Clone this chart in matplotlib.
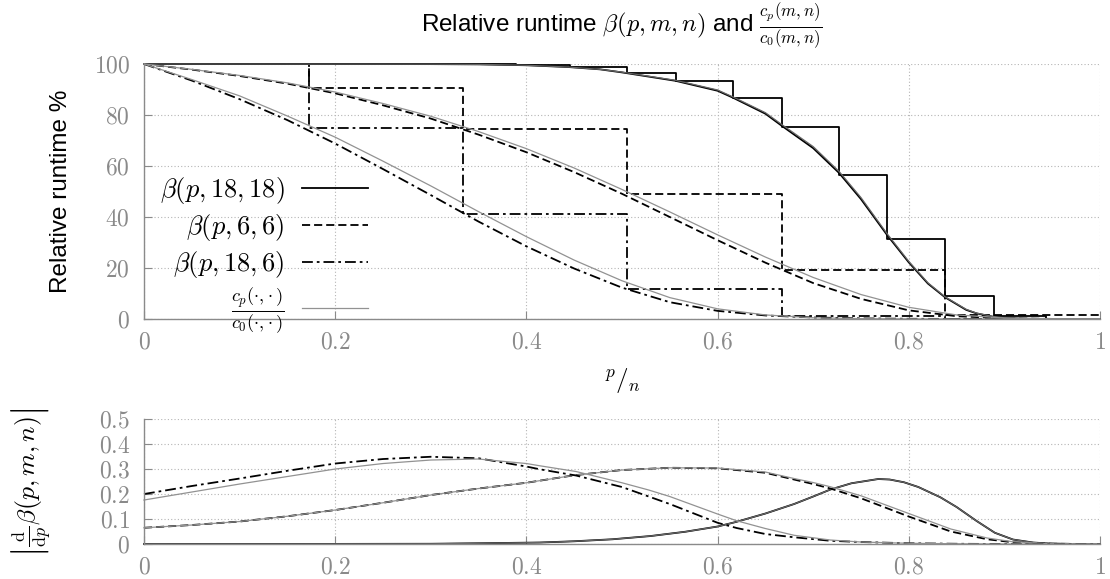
import matplotlib
matplotlib.use("Agg")
import matplotlib.pyplot as plt
from matplotlib.ticker import FixedLocator, FixedFormatter

plt.rcParams['mathtext.fontset'] = 'cm'
plt.rcParams['font.family'] = ['Liberation Sans', 'DejaVu Sans']

# ---------------- data ----------------
# top panel: smooth curves (p/n, relative runtime %)
p_s1818 = [0, 0.3, 0.35, 0.4, 0.444, 0.477, 0.5, 0.556, 0.6, 0.616, 0.65, 0.667, 0.7,
           0.727, 0.75, 0.7776, 0.8, 0.82, 0.838, 0.86, 0.871, 0.888, 0.9, 0.92, 0.95, 1.0]
v_s1818 = [100, 99.95, 99.85, 99.5, 98.8, 97.9, 96.7, 93.4, 89.5, 86.8, 80.5, 75.8, 67,
           57.3, 47, 32.8, 22.2, 13.9, 8.5, 3.6, 2.2, 0.9, 0.45, 0.12, 0.02, 0]
g_s1818 = [100, 99.95, 99.85, 99.5, 98.8, 97.9, 96.8, 93.6, 89.8, 87.1, 80.9, 76.3, 67.6,
           57.9, 47.6, 33.3, 22.6, 14.2, 8.7, 3.8, 2.3, 1.0, 0.5, 0.13, 0.02, 0]

p_s = [0, 0.05, 0.1, 0.15, 0.2, 0.25, 0.3, 0.35, 0.4, 0.45, 0.5, 0.55, 0.6, 0.65,
       0.7, 0.75, 0.8, 0.85, 0.9, 0.95, 1.0]
v_s66 = [100, 97.8, 95.3, 92.3, 88.5, 83.8, 78.6, 72.3, 65.4, 57.6, 49.1, 40.0, 30.9,
         22.1, 14.1, 7.9, 3.4, 1.1, 0.3, 0.05, 0]
g_s66 = [100, 97.9, 95.5, 92.6, 89.0, 84.5, 79.5, 73.5, 66.8, 59.2, 50.8, 42.0, 33.0,
         24.3, 16.3, 9.6, 4.6, 1.6, 0.4, 0.05, 0]
v_s186 = [100, 93.5, 86.2, 78.0, 68.8, 58.8, 48.6, 38.2, 28.5, 19.8, 12.3, 6.6, 3.2,
          1.4, 0.6, 0.25, 0.1, 0.03, 0, 0, 0]
g_s186 = [100, 93.9, 87.5, 79.6, 71.3, 61.9, 52.2, 42.1, 32.3, 23.1, 15.0, 8.4, 4.0,
          1.6, 0.5, 0.15, 0.05, 0.01, 0, 0, 0]

# top panel: step functions
e_1818 = [0, 0.0556, 0.111, 0.167, 0.222, 0.278, 0.333, 0.389, 0.4456, 0.5055, 0.5565,
          0.6165, 0.667, 0.727, 0.7775, 0.838, 0.889, 0.944, 1.0]
l_1818 = [100, 100, 100, 100, 100, 100, 99.95, 99.7, 98.9, 96.5, 93.2, 86.8, 75.3,
          56.5, 31.4, 9.1, 1.0, 0.1, 0.1]
e_6 = [0, 0.1726, 0.334, 0.5055, 0.667, 0.838, 1.0]
l_66 = [100, 90.6, 74.4, 48.9, 19.2, 1.6, 1.6]
l_186 = [100, 74.8, 41.2, 11.6, 1.1, 0.15, 0.15]

# bottom panel: |d beta / dp|
pd_1818 = [0, 0.2, 0.3, 0.35, 0.414, 0.45, 0.49, 0.53, 0.566, 0.6, 0.619, 0.65, 0.68,
           0.7, 0.718, 0.74, 0.768, 0.78, 0.795, 0.81, 0.833, 0.85, 0.871, 0.89, 0.909,
           0.93, 0.947, 0.97, 1.0]
d_1818 = [0, 0.0005, 0.001, 0.003, 0.006, 0.011, 0.019, 0.032, 0.049, 0.07, 0.088,
          0.122, 0.16, 0.19, 0.218, 0.243, 0.26, 0.258, 0.247, 0.228, 0.187, 0.148,
          0.092, 0.045, 0.018, 0.006, 0.002, 0.0005, 0]

pd_66 = [0, 0.05, 0.1, 0.15, 0.2, 0.25, 0.3, 0.35, 0.4, 0.45, 0.5, 0.55, 0.6, 0.65,
         0.68, 0.7, 0.718, 0.75, 0.8, 0.844, 0.882, 0.909, 0.95, 1.0]
d_66 = [0.065, 0.076, 0.09, 0.111, 0.136, 0.165, 0.196, 0.222, 0.245, 0.275, 0.296,
        0.305, 0.303, 0.285, 0.258, 0.24, 0.222, 0.183, 0.11, 0.05, 0.019, 0.007, 0.001, 0]
dg_66 = [0.065, 0.076, 0.09, 0.111, 0.136, 0.165, 0.196, 0.222, 0.245, 0.275, 0.296,
         0.305, 0.304, 0.288, 0.262, 0.246, 0.229, 0.193, 0.122, 0.06, 0.024, 0.009, 0.001, 0]

pd_186 = [0, 0.05, 0.1, 0.15, 0.2, 0.25, 0.3, 0.35, 0.4, 0.414, 0.452, 0.5, 0.528, 0.55,
          0.6, 0.62, 0.65, 0.68, 0.718, 0.75, 0.8, 0.85, 0.9, 1.0]
d_186 = [0.2, 0.232, 0.262, 0.293, 0.322, 0.34, 0.349, 0.343, 0.31, 0.299, 0.274, 0.228,
         0.19, 0.16, 0.085, 0.064, 0.04, 0.027, 0.013, 0.008, 0.003, 0.001, 0, 0]
dg_186 = [0.176, 0.208, 0.24, 0.27, 0.30, 0.322, 0.336, 0.34, 0.322, 0.313, 0.29, 0.245,
          0.216, 0.19, 0.12, 0.093, 0.062, 0.035, 0.016, 0.008, 0.003, 0.001, 0, 0]

x_ticks = [0, 0.2, 0.4, 0.6, 0.8, 1.0]
x_labels = ['0', '0.2', '0.4', '0.6', '0.8', '1']
y1_ticks = [0, 20, 40, 60, 80, 100]
y1_labels = ['0', '20', '40', '60', '80', '100']
y2_ticks = [0, 0.1, 0.2, 0.3, 0.4, 0.5]
y2_labels = ['0', '0.1', '0.2', '0.3', '0.4', '0.5']

# ---------------- styles ----------------
BLK = 'black'
GRY = '#929292'
TICKC = '#8a8a8a'
LW = 1.3
GLW = 0.9
DASH = (0, (4.5, 2.2))
DASHDOT = (0, (6, 2.2, 1.5, 2.2))

fig = plt.figure(figsize=(11.1, 5.79), dpi=100)
ax1 = fig.add_axes([0.1297, 0.449, 0.8613, 0.4405])
ax2 = fig.add_axes([0.1297, 0.0604, 0.8613, 0.2159])


def style_axes(ax, yt, yl, ylim):
    ax.set_xlim(0, 1)
    ax.set_ylim(*ylim)
    ax.xaxis.set_major_locator(FixedLocator(x_ticks))
    ax.xaxis.set_major_formatter(FixedFormatter([r'$%s$' % s for s in x_labels]))
    ax.yaxis.set_major_locator(FixedLocator(yt))
    ax.yaxis.set_major_formatter(FixedFormatter([r'$%s$' % s for s in yl]))
    ax.tick_params(direction='in', length=6, width=0.8, color=TICKC,
                   labelcolor=TICKC, labelsize=17, pad=10)
    ax.tick_params(axis='x', pad=9)
    for s in ['top', 'right']:
        ax.spines[s].set_visible(False)
    for s in ['left', 'bottom']:
        ax.spines[s].set_color(TICKC)
        ax.spines[s].set_linewidth(1.0)
    ax.grid(True, linestyle=(0, (1, 2)), color='#b5b5b5', linewidth=0.8)
    ax.set_axisbelow(True)


style_axes(ax1, y1_ticks, y1_labels, (0, 100))
style_axes(ax2, y2_ticks, y2_labels, (0, 0.5))

# ---------------- top panel ----------------
ax1.step(e_1818, l_1818, where='post', color=BLK, lw=LW, clip_on=False)
ax1.step(e_6, l_66, where='post', color=BLK, lw=LW, linestyle=DASH, clip_on=False)
ax1.step(e_6, l_186, where='post', color=BLK, lw=LW, linestyle=DASHDOT, clip_on=False)

h1, = ax1.plot(p_s1818, v_s1818, color=BLK, lw=LW, clip_on=False)
h2, = ax1.plot(p_s, v_s66, color=BLK, lw=LW, linestyle=DASH, clip_on=False)
h3, = ax1.plot(p_s, v_s186, color=BLK, lw=LW, linestyle=DASHDOT, clip_on=False)
ax1.plot(p_s1818, g_s1818, color='#666666', lw=GLW, clip_on=False)
ax1.plot(p_s, g_s66, color=GRY, lw=GLW, clip_on=False)
ax1.plot(p_s, g_s186, color=GRY, lw=GLW, clip_on=False)

leg_h = [h1, h2, h3, plt.Line2D([], [], color=GRY, lw=GLW)]
leg_l = [r'$\beta(p,18,18)$', r'$\beta(p,6,6)$', r'$\beta(p,18,6)$',
         r'$\frac{c_p(\cdot{,}\cdot)}{c_0(\cdot{,}\cdot)}$']
leg = ax1.legend(leg_h, leg_l, loc='upper left', bbox_to_anchor=(0.0, 0.625),
                 frameon=False, markerfirst=False, fontsize=19, handlelength=2.5,
                 handletextpad=0.68, labelspacing=0.22, borderaxespad=0.0,
                 borderpad=0.6)

# ---------------- bottom panel ----------------
ax2.plot(pd_1818, d_1818, color=BLK, lw=LW, clip_on=False)
ax2.plot(pd_1818, d_1818, color='#666666', lw=GLW, clip_on=False)
ax2.plot(pd_66, d_66, color=BLK, lw=LW, linestyle=DASH, clip_on=False)
ax2.plot(pd_66, dg_66, color=GRY, lw=GLW, clip_on=False)
ax2.plot(pd_186, d_186, color=BLK, lw=LW, linestyle=DASHDOT, clip_on=False)
ax2.plot(pd_186, dg_186, color=GRY, lw=GLW, clip_on=False)

# ---------------- texts ----------------
fig.text(0.5604, 0.955, r'Relative runtime $\beta(p,m,n)$ and $\frac{c_p(m,n)}{c_0(m,n)}$',
         ha='center', va='center', fontsize=17.5)
fig.text(0.055, 0.670, 'Relative runtime %', rotation=90, ha='center', va='center',
         fontsize=17.5)
fig.text(0.5604, 0.342, r'$^{p}/_{n}$', ha='center', va='center', fontsize=18)
fig.text(0.028, 0.1675, r'$\left|\frac{\mathrm{d}}{\mathrm{d}p}\beta(p,m,n)\right|$',
         rotation=90, ha='center', va='center', fontsize=18.5)

fig.savefig('out.png', dpi=100)
